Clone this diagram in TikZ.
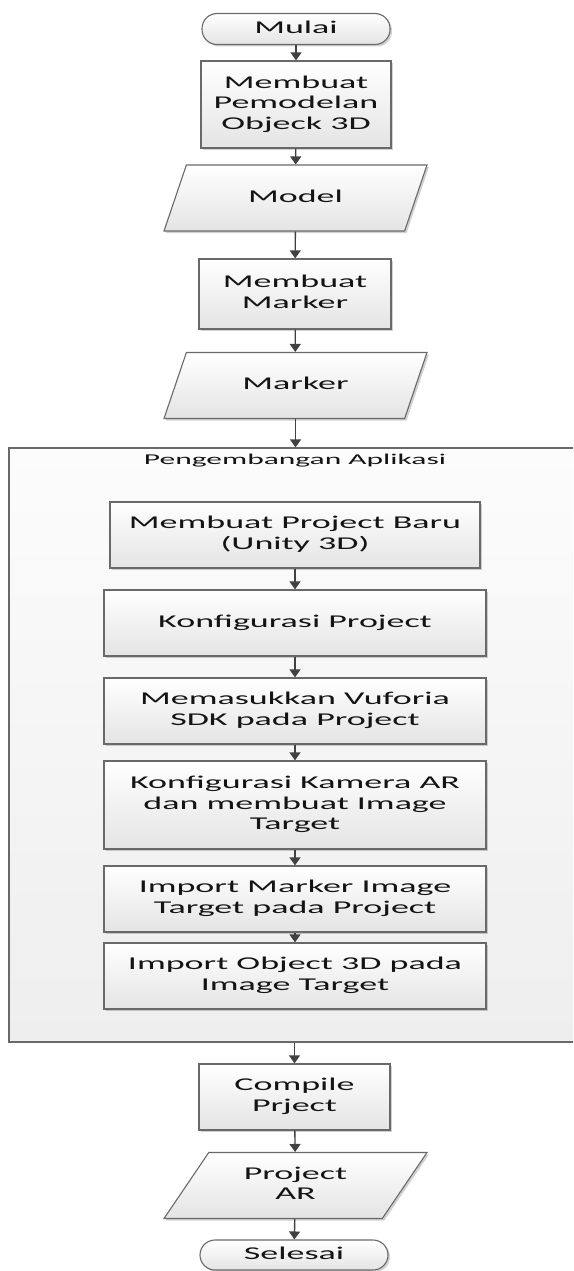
\documentclass[tikz,border=0pt]{standalone}
\usepackage{fontspec}
\usepackage{graphicx}
\setmainfont{Carlito}
\usetikzlibrary{shapes.geometric,arrows.meta,shadows}

\definecolor{boxline}{RGB}{105,105,105}
\definecolor{boxbot}{RGB}{228,228,228}
\definecolor{flowc}{RGB}{65,65,65}
\definecolor{txt}{RGB}{20,20,20}
\definecolor{cnttop}{RGB}{252,252,252}
\definecolor{cntbot}{RGB}{238,238,238}

% wide lettering: text stretched horizontally
\newcommand{\wtext}[1]{\scalebox{2.0}[1]{\begin{tabular}{@{}c@{}}#1\end{tabular}}}
\newcommand{\wlabel}[1]{\scalebox{2.1}[1]{#1}}

\tikzset{
  every node/.style={text=txt, font=\fontsize{18}{20.5}\selectfont, inner sep=0pt},
  softshadow/.style={drop shadow={shadow xshift=2pt, shadow yshift=-2pt, opacity=0.18, fill=black}},
  proc/.style={rectangle, draw=boxline, line width=1.3pt, top color=white, bottom color=boxbot, softshadow},
  term/.style={rectangle, rounded corners=15pt, draw=boxline, line width=1.1pt, top color=white, bottom color=boxbot,
    minimum width=188pt, minimum height=31pt, softshadow},
  io/.style={trapezium, trapezium left angle=42.5, trapezium right angle=137.5, trapezium stretches body,
    draw=boxline, line width=1.1pt, top color=white, bottom color=boxbot,
    minimum width=263pt, minimum height=66pt, softshadow},
  group/.style={rectangle, draw=boxline, line width=1.2pt, top color=cnttop, bottom color=cntbot,
    minimum width=567pt, minimum height=594pt},
  flow/.style={draw=flowc, line width=1.4pt, -{Triangle[width=11pt,length=8pt]}},
}

\begin{document}
\begin{tikzpicture}[x=1pt,y=-1pt]
\clip (0,0) rectangle (573,1271);
\fill[white] (0,0) rectangle (573,1271);

% application development group
\node[group] (dev) at (292.5,745) {};
\node[font=\fontsize{15}{17}\selectfont] (devlabel) at (295,461) {\wlabel{Pengembangan Aplikasi}};

% main flow
\node[term] (mulai) at (296,29) {\wtext{Mulai}};
\node[proc, minimum width=190pt, minimum height=87pt] (pemodelan) at (296,104.5) {\wtext{Membuat\\Pemodelan\\Objeck 3D}};
\node[io] (model) at (295.5,198) {\wtext{Model}};
\node[proc, minimum width=192pt, minimum height=70pt] (buatmarker) at (295,294) {\wtext{Membuat\\Marker}};
\node[io] (marker) at (295.5,385.5) {\wtext{Marker}};

% steps inside the group
\node[proc, minimum width=370pt, minimum height=66pt] (baru) at (295,535) {\wtext{Membuat Project Baru\\(Unity 3D)}};
\node[proc, minimum width=382pt, minimum height=66pt] (konfig) at (295,623) {\wtext{Konfigurasi Project}};
\node[proc, minimum width=382pt, minimum height=66pt] (vuforia) at (295,711) {\wtext{Memasukkan Vuforia\\SDK pada Project}};
\node[proc, minimum width=382pt, minimum height=88pt] (kamera) at (295,805) {\wtext{Konfigurasi Kamera AR\\dan membuat Image\\Target}};
\node[proc, minimum width=382pt, minimum height=66pt] (impmarker) at (295,899) {\wtext{Import Marker Image\\Target pada Project}};
\node[proc, minimum width=382pt, minimum height=66pt] (impobj) at (295,976) {\wtext{Import Object 3D pada\\Image Target}};

% after the group
\node[proc, minimum width=191pt, minimum height=66pt] (compile) at (294.5,1097) {\wtext{Compile\\Prject}};
\node[io] (projar) at (295.5,1185.5) {\wtext{Project\\AR}};
\node[term, minimum height=30pt] (selesai) at (294,1255) {\wtext{Selesai}};

% connectors
\draw[flow] (mulai) -- (pemodelan);
\draw[flow] (pemodelan) -- (model);
\draw[flow] (model) -- (buatmarker);
\draw[flow] (buatmarker) -- (marker);
\draw[flow] (marker.south) -- (marker.south |- dev.north);
\draw[flow] (baru) -- (konfig);
\draw[flow] (konfig) -- (vuforia);
\draw[flow] (vuforia) -- (kamera);
\draw[flow] (kamera) -- (impmarker);
\draw[flow] (impmarker) -- (impobj);
\draw[flow] (dev.south -| compile.north) -- (compile.north);
\draw[flow] (compile) -- (projar);
\draw[flow] (projar) -- (selesai);
\end{tikzpicture}
\end{document}
